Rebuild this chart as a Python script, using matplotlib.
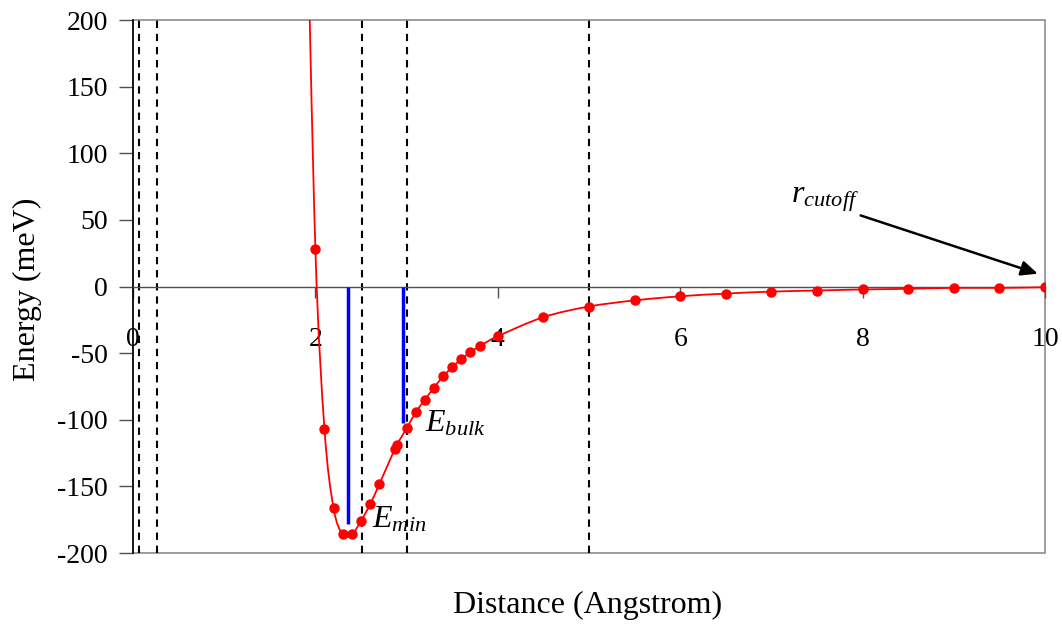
import numpy as np
import matplotlib
matplotlib.use("Agg")
import matplotlib.pyplot as plt
from matplotlib.path import Path
from matplotlib.patches import PathPatch, Rectangle

plt.rcParams['font.family'] = ['Liberation Serif', 'DejaVu Serif']
plt.rcParams['mathtext.fontset'] = 'custom'
plt.rcParams['mathtext.rm'] = 'Liberation Serif'
plt.rcParams['mathtext.it'] = 'Liberation Serif:italic'
plt.rcParams['axes.unicode_minus'] = False

# Pair potential samples: distance (Angstrom) and energy (meV)
distance = [1.9, 2.0, 2.1, 2.2, 2.3, 2.4, 2.5, 2.6, 2.7, 2.87, 2.89, 3.0,
            3.1, 3.2, 3.3, 3.4, 3.5, 3.6, 3.7, 3.8, 4.0, 4.5, 5.0, 5.5,
            6.0, 6.5, 7.0, 7.5, 8.0, 8.5, 9.0, 9.5, 10.0]
energy = [320, 28.5, -107, -166.5, -186, -186, -176, -163.5, -148.5, -122,
          -119, -106.5, -94.5, -85, -76, -67.5, -60.5, -54.5, -49.3, -44.8,
          -37.3, -23, -15, -10.4, -7.3, -5.3, -3.8, -3.0, -2.2, -1.7, -1.0,
          -1.0, -0.5]

# Reference distances (dashed) and energy markers (blue)
dashed_x = [0.07, 0.26, 2.51, 3.01, 5.0]
level_x = [2.355, 2.96]
level_e = [-178.5, -102.5]

x_ticks = [0, 2, 4, 6, 8, 10]
y_ticks = [-200, -150, -100, -50, 0, 50, 100, 150, 200]


def smooth_path(xs, ys):
    """Cubic Bezier path through the points (Catmull-Rom style tangents)."""
    xs = np.asarray(xs, float)
    ys = np.asarray(ys, float)
    n = len(xs)
    verts = [(xs[0], ys[0])]
    codes = [Path.MOVETO]
    for i in range(n - 1):
        i0 = max(i - 1, 0)
        i3 = min(i + 2, n - 1)
        c1 = (xs[i] + (xs[i + 1] - xs[i0]) / 6, ys[i] + (ys[i + 1] - ys[i0]) / 6)
        c2 = (xs[i + 1] - (xs[i3] - xs[i]) / 6, ys[i + 1] - (ys[i3] - ys[i]) / 6)
        verts += [c1, c2, (xs[i + 1], ys[i + 1])]
        codes += [Path.CURVE4] * 3
    return Path(verts, codes)


fig = plt.figure(figsize=(10.62, 6.27), dpi=100)
ax = fig.add_axes([0.1252, 0.118, 0.8588, 0.850])

ax.set_xlim(0, 10)
ax.set_ylim(-200, 200)

for xv in dashed_x:
    ax.axvline(xv, color='black', lw=1.5, ls=(0, (3.5, 2.8)), zorder=2)

ax.vlines(level_x, level_e, [0, 0], color='#0000ff', lw=2.5, zorder=3)

ax.add_patch(PathPatch(smooth_path(distance, energy), facecolor='none',
                       edgecolor='#ff0000', lw=1.3, zorder=4))
ax.plot(distance, energy, ls='none', marker='o', ms=6.5, color='#ff0000',
        zorder=5)

# Frame
ax.add_patch(Rectangle((0, 0), 1, 1, transform=ax.transAxes, fill=False,
                       edgecolor='#8c8c8c', lw=1.2, zorder=1, clip_on=False))
for s in ['top', 'right']:
    ax.spines[s].set_visible(False)
ax.spines['left'].set_color('black')
ax.spines['left'].set_linewidth(1.2)
ax.spines['bottom'].set_position(('data', 0))
ax.spines['bottom'].set_color('#505050')
ax.spines['bottom'].set_linewidth(1.0)

ax.set_xticks(x_ticks)
ax.set_yticks(y_ticks)
ax.tick_params(axis='x', direction='out', length=8, width=1, color='#505050',
               pad=21, labelsize=20)
ax.tick_params(axis='y', direction='out', length=10, width=1, color='#505050',
               pad=8, labelsize=20)

fig.text(0.553, 0.034, 'Distance (Angstrom)', ha='center', va='center',
         fontsize=23)
fig.text(0.026, 0.539, 'Energy (meV)', ha='center', va='center',
         rotation=90, fontsize=23)

ax.text(2.62, -175, r'$E_{min}$', fontsize=23, va='center', ha='left', zorder=6)
ax.text(3.2, -103, r'$E_{bulk}$', fontsize=23, va='center', ha='left', zorder=6)
ax.text(7.22, 65, r'$r_{cutoff}$', fontsize=23, va='center', ha='left', zorder=6)
ax.annotate('', xy=(9.95, 9), xytext=(7.95, 54),
            arrowprops=dict(arrowstyle='-|>,head_length=1.0,head_width=0.45',
                            color='black', lw=1.8), zorder=6)

fig.savefig('out.png', dpi=100)
